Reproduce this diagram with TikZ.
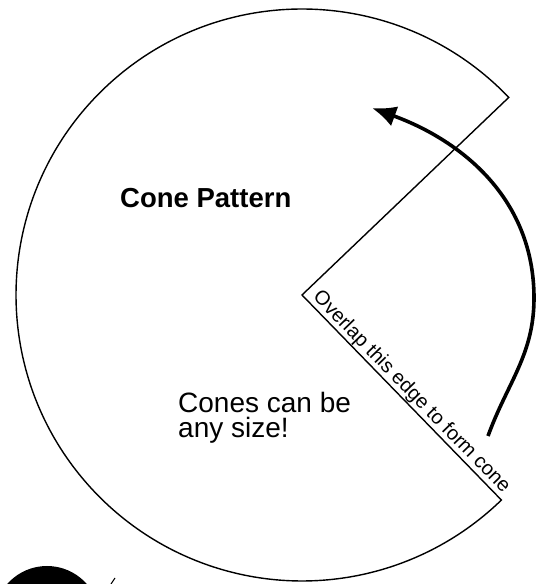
\documentclass[tikz,border=0pt]{standalone}
\usepackage{fontspec}
\setmainfont{Liberation Sans}
\usetikzlibrary{arrows.meta,calc}
\tikzset{
  cutline/.style={line width=1.4pt, draw=black, line join=miter},
  turnarrow/.style={-{Latex[length=24pt,width=21pt]}, line width=3.6pt, draw=black},
  titletext/.style={font=\fontsize{27.5}{29}\selectfont\bfseries, inner sep=0pt},
  notetext/.style={font=\fontsize{28}{25}\selectfont, align=left, inner sep=0pt},
  edgenote/.style={font=\fontsize{20}{22}\selectfont, inner xsep=9pt, inner ysep=1pt},
}
\begin{document}
\begin{tikzpicture}[x=1pt,y=1pt]
    \useasboundingbox (0,0) rectangle (537,584);
    \clip (0,0) rectangle (537,584);
    \coordinate (apex) at (302,289);
    \coordinate (upper) at ($(apex)+(43.7:286pt)$);
    \draw[cutline] (apex) -- (upper) arc[start angle=43.7, end angle=314.2, radius=286pt] coordinate (lower) -- cycle;
    \node[titletext,anchor=base west] (title) at (120,376) {Cone Pattern};
    \node[notetext,anchor=north west] (note) at (178,192) {Cones can be\\any size!};
    \node[edgenote,rotate=-45.8,anchor=south west] (overlap) at (apex) {Overlap this edge to form cone};
    \coordinate (tail) at (488,148);
    \coordinate (bend) at (534,286);
    \coordinate (tip) at (372,476);
    \draw[turnarrow] (tail) to[out=70,in=-90] (bend) to[out=90,in=-20] (tip);
    \fill (47,-35) circle[radius=53pt];
    \draw[line width=1pt] (115,6) -- (111,0);
  \end{tikzpicture}
\end{document}
